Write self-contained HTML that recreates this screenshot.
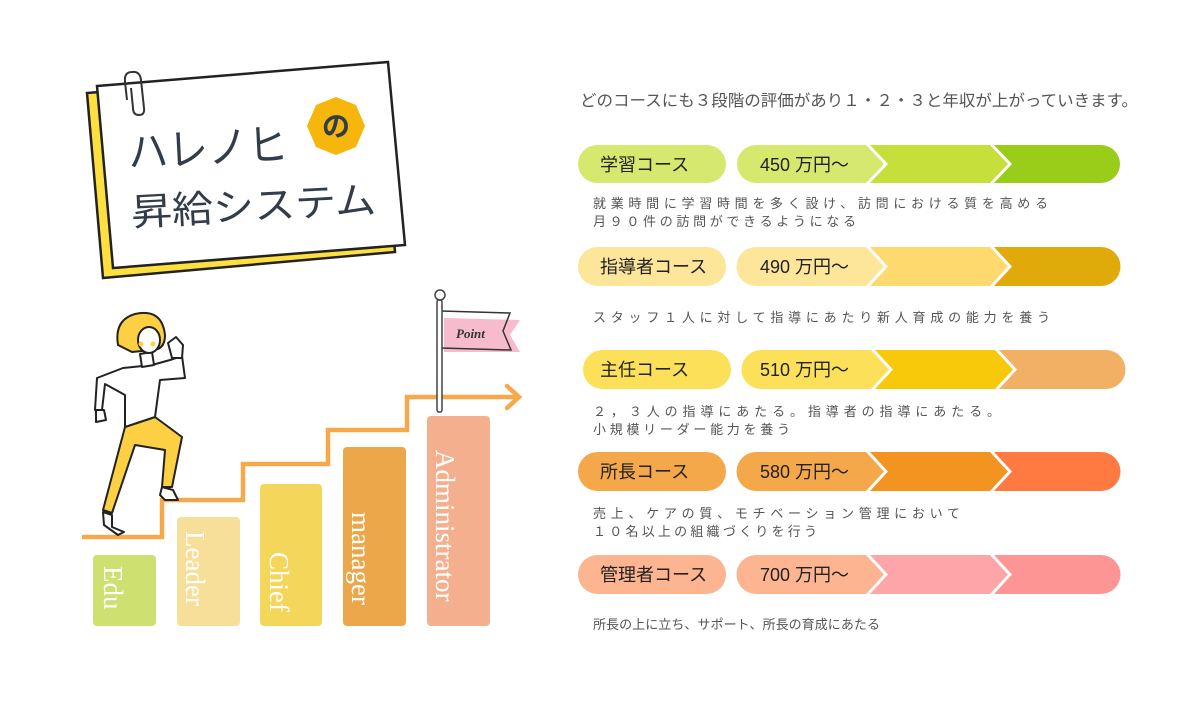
<!DOCTYPE html>
<html><head><meta charset="utf-8"><style>
html,body{margin:0;padding:0;background:#fff;}
svg{display:block;}
text{font-family:"Liberation Sans","Noto Sans CJK JP",sans-serif;}
text.serif{font-family:"Liberation Serif",serif;}
</style></head><body>
<svg width="1181" height="703" viewBox="0 0 1181 703" xmlns="http://www.w3.org/2000/svg">
<rect width="1181" height="703" fill="#fff"/>
<!-- Card -->
<polygon points="87,93 380,70 395,252 103,278" fill="#fde040" stroke="#222" stroke-width="2.5"/>
<polygon points="97,86 388,62 405,245 113,268" fill="#fff" stroke="#222" stroke-width="2.5"/>
<path d="M127,100 L125,82 Q124,72 132,72 Q140,71 141,80 L144,108 Q145,115 139,115 Q133,115 133,108 L131,88" fill="none" stroke="#333" stroke-width="2"/>
<polygon points="336,97 356,105 365,126 356,147 336,155 316,147 307,126 316,105" fill="#f6b60c"/>
<text x="336" y="136" font-size="28" fill="#333d4a" text-anchor="middle" font-weight="bold">の</text>
<g transform="rotate(-3 240 150)">
<text x="128" y="162" font-size="44" fill="#333d4a" textLength="160" lengthAdjust="spacingAndGlyphs">ハレノヒ</text>
<text x="128" y="220" font-size="38" fill="#333d4a" textLength="245" lengthAdjust="spacingAndGlyphs">昇給システム</text>
</g>
<!-- staircase -->
<polyline points="82,537 162,537 162,500 243,500 243,464 328,464 328,430 407,430 407,397 518,397" fill="none" stroke="#f5a94a" stroke-width="4.5"/>
<polyline points="507,386 519,397 507,408" fill="none" stroke="#f5a94a" stroke-width="4.5" stroke-linecap="round"/>
<!-- bars -->
<rect x="93" y="555" width="63" height="71" rx="4" fill="#cde070"/>
<rect x="177" y="517" width="63" height="109" rx="4" fill="#f8df99"/>
<rect x="260" y="484" width="62" height="142" rx="4" fill="#f3d65a"/>
<rect x="343" y="447" width="63" height="179" rx="4" fill="#eca74a"/>
<rect x="427" y="416" width="63" height="210" rx="4" fill="#f4b08e"/>
<g fill="#fff" font-size="27">
<text class="serif" transform="translate(104,566) rotate(90)">Edu</text>
<text class="serif" transform="translate(186,531) rotate(90)">Leader</text>
<text class="serif" transform="translate(270,552) rotate(90)">Chief</text>
<text class="serif" transform="translate(352,512) rotate(90)">manager</text>
<text class="serif" transform="translate(436,450) rotate(90)">Administrator</text>
</g>
<!-- flag -->
<polygon points="444,318 520,320 510,335 520,352 444,352" fill="#f6bccd"/>
<polyline points="441,311 510,313 503,331 511,350 441,348" fill="none" stroke="#333" stroke-width="1.5"/>
<text class="serif" x="456" y="338" font-size="13" font-style="italic" font-weight="bold" fill="#333">Point</text>
<rect x="437" y="300" width="5" height="112" rx="2" fill="#fff" stroke="#444" stroke-width="1.5"/>
<circle cx="440" cy="295" r="5" fill="#fff" stroke="#444" stroke-width="1.5"/>
<!-- woman -->
<g stroke="#222" stroke-width="2" stroke-linejoin="round">
<path d="M125,427 L155,417 L182,437 L172,487 L162,487 L165,450 L135,445 L112,513 L103,510 Z" fill="#fcd042"/>
<path d="M162,487 L173,490 L178,500 L165,500 L160,495 Z" fill="#fff"/>
<path d="M103,512 L112,515 L112,527 L124,532 L118,535 L104,525 Z" fill="#fff"/>
<path d="M123,368 L152,365 L170,360 L182,356 L185,378 L160,380 L155,417 L125,427 L125,395 L105,384 L102,410 L95,410 L97,378 Z" fill="#fff"/>
<path d="M168,343 L176,337 L183,345 L182,358 L172,358 Z" fill="#fff"/>
<path d="M96,410 L104,410 L106,420 L96,422 Z" fill="#fff"/>
<path d="M140,354 L142,367 L154,365 L152,352 Z" fill="#fff"/>
<path d="M118,345 Q114,320 135,314 Q162,308 165,335 Q165,350 152,350 L132,352 Z" fill="#fcd042"/>
<ellipse cx="149" cy="340" rx="11" ry="13" fill="#fff"/>
</g>
<circle cx="141" cy="344" r="2.5" fill="#fcd042"/>
<circle cx="153" cy="344" r="2.5" fill="#fcd042"/>
<!-- header -->
<text x="580" y="106" font-size="16" fill="#555" textLength="558" lengthAdjust="spacingAndGlyphs">どのコースにも３段階の評価があり１・２・３と年収が上がっていきます。</text>
<!-- rows -->
<g font-size="18" fill="#222">
<rect x="578" y="145" width="148" height="38" rx="19" fill="#d7e86f"/>
<path d="M756 145 L866 145 L884 164 L866 183 L756 183 A19 19 0 0 1 756 145Z" fill="#d7e86f"/>
<path d="M870 145 L990 145 L1008 164 L990 183 L870 183 L888 164Z" fill="#c6df3a"/>
<path d="M994 145 L1101 145 A19 19 0 0 1 1101 183 L994 183 L1012 164Z" fill="#9acd1a"/>
<text x="600" y="171">学習コース</text>
<text x="760" y="171">450 万円～</text>
<rect x="578" y="247" width="148" height="39" rx="19.5" fill="#fde59a"/>
<path d="M756 247 L866 247 L884 266.5 L866 286 L756 286 A19.5 19.5 0 0 1 756 247Z" fill="#fde59a"/>
<path d="M870 247 L990 247 L1008 266.5 L990 286 L870 286 L888 266.5Z" fill="#fdd96e"/>
<path d="M994 247 L1101 247 A19.5 19.5 0 0 1 1101 286 L994 286 L1012 266.5Z" fill="#e0aa0a"/>
<text x="600" y="273">指導者コース</text>
<text x="760" y="273">490 万円～</text>
<rect x="583" y="350" width="148" height="39" rx="19.5" fill="#fde05a"/>
<path d="M761 350 L871 350 L889 369.5 L871 389 L761 389 A19.5 19.5 0 0 1 761 350Z" fill="#fde05a"/>
<path d="M875 350 L995 350 L1013 369.5 L995 389 L875 389 L893 369.5Z" fill="#f8c80a"/>
<path d="M999 350 L1106 350 A19.5 19.5 0 0 1 1106 389 L999 389 L1017 369.5Z" fill="#f2b064"/>
<text x="600" y="376">主任コース</text>
<text x="760" y="376">510 万円～</text>
<rect x="578" y="452" width="148" height="39" rx="19.5" fill="#f4a84a"/>
<path d="M756 452 L866 452 L884 471.5 L866 491 L756 491 A19.5 19.5 0 0 1 756 452Z" fill="#f4a84a"/>
<path d="M870 452 L990 452 L1008 471.5 L990 491 L870 491 L888 471.5Z" fill="#f39420"/>
<path d="M994 452 L1101 452 A19.5 19.5 0 0 1 1101 491 L994 491 L1012 471.5Z" fill="#ff7a40"/>
<text x="600" y="478">所長コース</text>
<text x="760" y="478">580 万円～</text>
<rect x="578" y="555" width="148" height="39" rx="19.5" fill="#fdb491"/>
<path d="M756 555 L866 555 L884 574.5 L866 594 L756 594 A19.5 19.5 0 0 1 756 555Z" fill="#fdb491"/>
<path d="M870 555 L990 555 L1008 574.5 L990 594 L870 594 L888 574.5Z" fill="#fda5a8"/>
<path d="M994 555 L1101 555 A19.5 19.5 0 0 1 1101 594 L994 594 L1012 574.5Z" fill="#fd9595"/>
<text x="600" y="581">管理者コース</text>
<text x="760" y="581">700 万円～</text>
</g>
<!-- descriptions -->
<g font-size="13" fill="#555">
<text x="593" y="208" textLength="455" lengthAdjust="spacing">就業時間に学習時間を多く設け、訪問における質を高める</text>
<text x="593" y="226" textLength="263" lengthAdjust="spacing">月９０件の訪問ができるようになる</text>
<text x="593" y="322" textLength="457" lengthAdjust="spacing">スタッフ１人に対して指導にあたり新人育成の能力を養う</text>
<text x="593" y="416" textLength="407" lengthAdjust="spacing">２，３人の指導にあたる。指導者の指導にあたる。</text>
<text x="593" y="434" textLength="197" lengthAdjust="spacing">小規模リーダー能力を養う</text>
<text x="593" y="518" textLength="367" lengthAdjust="spacing">売上、ケアの質、モチベーション管理において</text>
<text x="593" y="536" textLength="224" lengthAdjust="spacing">１０名以上の組織づくりを行う</text>
<text x="593" y="629" textLength="287" lengthAdjust="spacing">所長の上に立ち、サポート、所長の育成にあたる</text>
</g>
</svg>
</body></html>
